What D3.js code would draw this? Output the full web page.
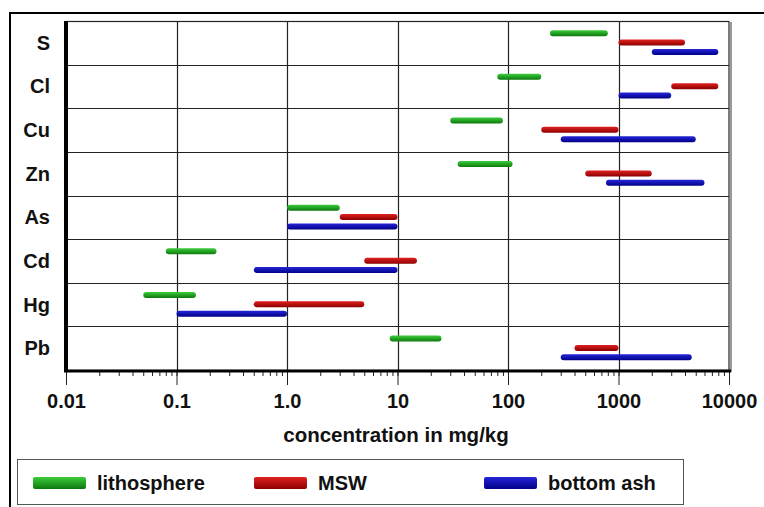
<!DOCTYPE html>
<html>
<head>
<meta charset="utf-8">
<script src="https://cdn.jsdelivr.net/npm/d3@7"></script>
<style>
  body { margin: 0; background: #fff; }
  text { font-family: "Liberation Sans", Arial, sans-serif; font-weight: bold; fill: #111; }
</style>
</head>
<body>
<svg id="chart" width="764" height="507"></svg>
<script>
var categories = ["S", "Cl", "Cu", "Zn", "As", "Cd", "Hg", "Pb"];
var seriesNames = ["lithosphere", "MSW", "bottom ash"];
// [min, max] concentration in mg/kg, per category
var lithosphere = [[240, 800], [80, 200], [30, 90], [35, 110], [1, 3], [0.08, 0.23], [0.05, 0.15], [8.5, 25]];
var msw = [[1000, 4000], [3000, 8000], [200, 1000], [500, 2000], [3, 10], [5, 15], [0.5, 5], [400, 1000]];
var bottomAsh = [[2000, 8000], [1000, 3000], [300, 5000], [770, 6000], [1, 10], [0.5, 10], [0.1, 1], [300, 4600]];
var tickValues = [0.01, 0.1, 1, 10, 100, 1000, 10000];
var tickLabels = ["0.01", "0.1", "1.0", "10", "100", "1000", "10000"];
var axisTitle = "concentration in mg/kg";

var svg = d3.select("#chart"),
    pLeft = 66, pRight = 729, pTop = 21, pBottom = 370;

var colors = {
  "lithosphere": ["#3ccc3c", "#0c780c"],
  "MSW": ["#e02020", "#8c0000"],
  "bottom ash": ["#2626d8", "#000088"]
};

var defs = svg.append("defs");
seriesNames.forEach(function(s, i) {
  var g = defs.append("linearGradient").attr("id", "grad" + i)
      .attr("x1", 0).attr("y1", 0).attr("x2", 0).attr("y2", 1);
  g.append("stop").attr("offset", "0%").attr("stop-color", colors[s][0]);
  g.append("stop").attr("offset", "100%").attr("stop-color", colors[s][1]);
});

// outer frame
svg.append("rect").attr("x", 10).attr("y", 13).attr("width", 800).attr("height", 600)
    .attr("fill", "none").attr("stroke", "#000").attr("stroke-width", 2);

var x = d3.scaleLog().domain([0.01, 10000]).range([pLeft, pRight]);
var y = d3.scaleBand().domain(categories).range([pTop, pBottom]);
var sub = d3.scalePoint().domain(seriesNames).range([0.28, 0.71]);

// grid
var grid = svg.append("g").attr("stroke", "#222").attr("stroke-width", 1.2);
grid.selectAll(".v").data(tickValues.slice(1, -1)).enter().append("line")
    .attr("x1", function(d) { return Math.round(x(d)) + 0.5; })
    .attr("x2", function(d) { return Math.round(x(d)) + 0.5; })
    .attr("y1", pTop).attr("y2", pBottom);
grid.selectAll(".h").data(categories.slice(1)).enter().append("line")
    .attr("x1", pLeft).attr("x2", pRight)
    .attr("y1", function(d) { return Math.round(y(d)) + 0.5; })
    .attr("y2", function(d) { return Math.round(y(d)) + 0.5; });
svg.append("rect").attr("x", pLeft).attr("y", pTop + 0.5).attr("width", pRight - pLeft).attr("height", pBottom - pTop)
    .attr("fill", "none").attr("stroke", "#222").attr("stroke-width", 1.2);
svg.append("line").attr("x1", pRight + 2).attr("x2", pRight + 2).attr("y1", pTop + 1).attr("y2", pBottom + 2)
    .attr("stroke", "#777").attr("stroke-width", 1.5);

// bars
var data = [lithosphere, msw, bottomAsh];
data.forEach(function(arr, si) {
  var s = seriesNames[si];
  svg.append("g").selectAll("rect").data(arr).enter().append("rect")
      .attr("x", function(d) { return x(d[0]); })
      .attr("width", function(d) { return x(d[1]) - x(d[0]); })
      .attr("y", function(d, i) { return y(categories[i]) + sub(s) * y.bandwidth() - 3; })
      .attr("height", 6)
      .attr("rx", 3)
      .attr("fill", "url(#grad" + si + ")");
});

// x axis
var minor = svg.append("g").attr("transform", "translate(0," + pBottom + ")")
    .call(d3.axisBottom(x).tickValues(x.ticks()).tickSize(6).tickFormat(""));
minor.select(".domain").remove();
minor.selectAll("line").attr("stroke", "#222");

var major = svg.append("g").attr("transform", "translate(0," + pBottom + ")")
    .call(d3.axisBottom(x).tickValues(tickValues).tickSize(15).tickPadding(9)
      .tickFormat(function(d, i) { return tickLabels[i]; }));
major.select(".domain").remove();
major.selectAll("line").attr("stroke", "#222");
major.selectAll("text").attr("font-size", 20).attr("fill", "#111")
    .attr("font-family", "Liberation Sans, Arial, sans-serif").attr("font-weight", "bold");

svg.append("line").attr("x1", pLeft - 2).attr("x2", pRight + 2).attr("y1", pBottom + 1).attr("y2", pBottom + 1)
    .attr("stroke", "#000").attr("stroke-width", 3);
svg.append("line").attr("x1", pLeft).attr("x2", pLeft).attr("y1", pTop).attr("y2", pBottom + 2)
    .attr("stroke", "#000").attr("stroke-width", 4);

// y labels
svg.append("g").selectAll("text").data(categories).enter().append("text")
    .attr("x", 50)
    .attr("y", function(d) { return y(d) + y.bandwidth() / 2 + 7; })
    .attr("text-anchor", "end").attr("font-size", 20)
    .text(function(d) { return d; });

svg.append("text").attr("x", 396).attr("y", 442)
    .attr("text-anchor", "middle").attr("font-size", 20.5).text(axisTitle);

// legend
svg.append("rect").attr("x", 17.5).attr("y", 459.5).attr("width", 666).attr("height", 45)
    .attr("fill", "none").attr("stroke", "#555").attr("stroke-width", 1);
var legendX = [33, 254, 484];
var lg = svg.append("g").selectAll("g").data(seriesNames).enter().append("g")
    .attr("transform", function(d, i) { return "translate(" + legendX[i] + ",477)"; });
lg.append("rect").attr("width", 53).attr("height", 12).attr("rx", 2)
    .attr("fill", function(d, i) { return "url(#grad" + i + ")"; });
lg.append("text").attr("x", 64).attr("y", 13).attr("font-size", 20)
    .text(function(d) { return d; });
</script>
</body>
</html>
